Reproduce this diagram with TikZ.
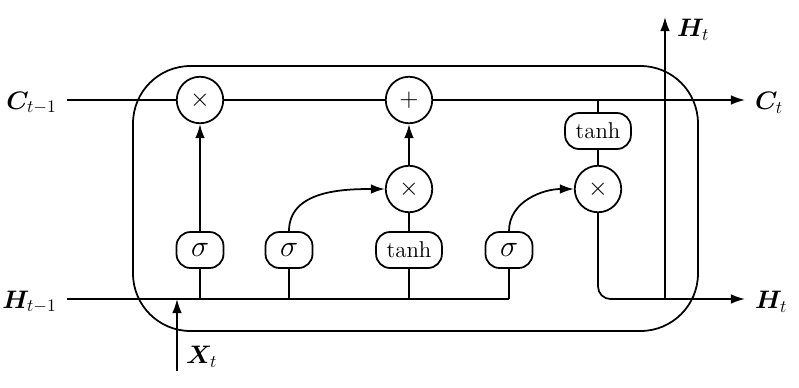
\documentclass[tikz,border=0pt]{standalone}
\usepackage{bm}
\usetikzlibrary{arrows.meta,positioning,calc}

\begin{document}
\begin{tikzpicture}[
        x=0.02cm, y=-0.02cm,
        >={Latex[length=8pt,width=5.5pt]},
        op/.style={
                circle,
                draw,
                line width=1pt,
                minimum size=0.93cm,
                inner sep=0pt,
                font=\Large
            },
        gate/.style={
                rectangle,
                rounded corners=0.28cm,
                draw,
                line width=1pt,
                minimum width=0.94cm,
                minimum height=0.72cm,
                inner xsep=6pt,
                inner ysep=2pt,
                font=\fontsize{13}{15}\selectfont
            },
        siggate/.style={gate, font=\fontsize{16}{18}\selectfont},
        wire/.style={line width=1pt},
        arrow/.style={->, line width=1pt},
        lbl/.style={font=\Large}
    ]
    \useasboundingbox (0,0) rectangle (799,387);

    % cell body
    \draw[wire, rounded corners=1.15cm] (133,66) rectangle (698,331);

    % operators
    \node[op] (mul1) at (200,100) {$\times$};
    \node[op] (add) at (409,100) {$+$};
    \node[op] (mul2) at (409,189) {$\times$};
    \node[op] (mul3) at (598,189) {$\times$};

    % gates
    \node[gate] (tanhc) at (598,131) {tanh};
    \node[siggate] (sig1) at (200,250) {$\sigma$};
    \node[siggate] (sig2) at (289,250) {$\sigma$};
    \node[gate] (tanh1) at (409,250) {tanh};
    \node[siggate] (sig3) at (509,250) {$\sigma$};

    % ends
    \coordinate (cin) at (67,100);
    \coordinate (cout) at (745,100);
    \coordinate (hin) at (67,299);
    \coordinate (hend) at (509,299);
    \coordinate (hout) at (745,299);
    \coordinate (htop) at (665,17);
    \coordinate (xin) at (177,371);

    \node[lbl, anchor=east] (clast) at (63,103) {$\bm{C}_{t-1}$};
    \node[lbl, anchor=east] (hlast) at (63,302) {$\bm{H}_{t-1}$};
    \node[lbl, anchor=west] (cnow) at (749,103) {$\bm{C}_t$};
    \node[lbl, anchor=west] (hnow) at (749,302) {$\bm{H}_t$};
    \node[lbl, anchor=west] (hup) at (671,30) {$\bm{H}_t$};
    \node[lbl, anchor=west] (xnow) at (180,357) {$\bm{X}_t$};

    % cell state
    \draw[arrow] (cin) -- (mul1) -- (add) -- (cout);

    % hidden input
    \draw[wire] (hin) -- (hend);
    \draw[arrow] (xin) -- (xin |- hin);
    \draw[wire] (sig1) -- (sig1 |- hin);
    \draw[wire] (sig2) -- (sig2 |- hin);
    \draw[wire] (tanh1) -- (tanh1 |- hin);
    \draw[wire] (sig3) -- (hend);

    % gates to operators
    \draw[arrow] (sig1) -- (mul1);
    \draw[arrow] (sig2.north) to[out=90, in=180] (mul2);
    \draw[wire] (tanh1) -- (mul2);
    \draw[arrow] (mul2) -- (add);
    \draw[arrow] (sig3.north) to[out=90, in=180] (mul3);
    \draw[wire] (tanhc |- cin) -- (tanhc);
    \draw[wire] (tanhc) -- (mul3);

    % hidden output
    \draw[arrow, rounded corners=0.25cm] (mul3) |- (hout);
    \draw[arrow] (htop |- hout) -- (htop);
\end{tikzpicture}
\end{document}
